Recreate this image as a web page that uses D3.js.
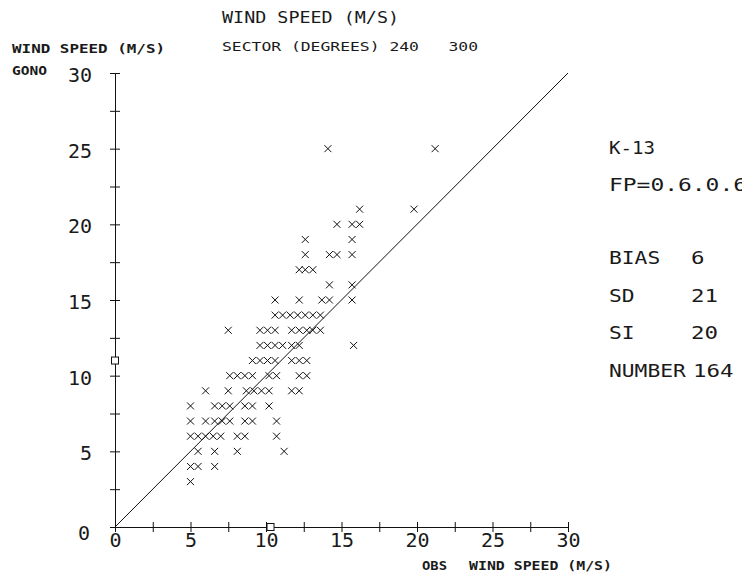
<!DOCTYPE html>
<html><head><meta charset="utf-8">
<script src="https://cdn.jsdelivr.net/npm/d3@7"></script>
<style>body{margin:0;background:#fff}text{font-family:"DejaVu Sans Mono",monospace;fill:#1a1a1a;white-space:pre}</style>
</head><body><svg id="c" width="742" height="580"></svg>
<script>
// GONO wind speed levels (m/s) and the observed speeds plotted at each level
const gonoLevels = [3, 4, 5, 6, 7, 8, 9, 10, 11, 12, 13, 14, 15, 16, 17, 18, 19, 20, 21, 25];
const obsAtLevel = [
  [5.0],
  [5.0, 5.5, 6.6],
  [5.5, 6.6, 8.1, 11.2],
  [5.0, 5.5, 6.0, 6.5, 7.0, 8.1, 8.6, 10.7],
  [5.0, 6.0, 6.6, 7.1, 7.6, 8.6, 9.1, 10.7],
  [5.0, 6.6, 7.1, 7.6, 8.6, 9.1, 10.2],
  [6.0, 7.5, 8.7, 9.2, 9.7, 10.2, 11.7, 12.2],
  [7.6, 8.1, 8.6, 9.1, 10.2, 10.7, 12.2, 12.7],
  [9.1, 9.6, 10.1, 10.6, 11.7, 12.2, 12.7],
  [9.6, 10.1, 10.6, 11.1, 11.7, 12.2, 15.8],
  [7.5, 9.6, 10.1, 10.6, 11.7, 12.2, 12.7, 13.1, 13.6],
  [10.6, 11.1, 11.6, 12.1, 12.6, 13.1, 13.6],
  [10.6, 12.2, 13.7, 14.2, 15.7],
  [14.2, 15.7],
  [12.2, 12.6, 13.1],
  [12.6, 14.2, 14.7, 15.7],
  [12.6, 15.7],
  [14.7, 15.7, 16.2],
  [16.2, 19.8],
  [14.1, 21.2]
];
// mean markers (squares on the axes)
const meanObs = 10.3;
const meanGono = 11.0;
const axisTicks = [0, 2.5, 5, 7.5, 10, 12.5, 15, 17.5, 20, 22.5, 25, 27.5, 30];
const tickLabels = [0, 5, 10, 15, 20, 25, 30];
const statNames = ["BIAS", "SD", "SI", "NUMBER"];
const statValues = ["6", "21", "20", "164"];

const svg = d3.select("#c");
const x = d3.scaleLinear().domain([0, 30]).range([115, 568]);
const y = d3.scaleLinear().domain([0, 30]).range([527, 73]);

const fmt = d => tickLabels.includes(d) ? String(d) : "";

// y axis
const gy = svg.append("g").attr("transform", `translate(${x(0)},0)`)
  .call(d3.axisLeft(y).tickValues(axisTicks).tickFormat(fmt).tickSize(5).tickSizeOuter(0).tickPadding(18));
gy.select(".domain").attr("stroke", "#111");
gy.selectAll(".tick line").attr("x1", -5).attr("x2", 5).attr("stroke", "#111");
gy.selectAll(".tick text").attr("font-size", 20).attr("font-family", "DejaVu Sans Mono").attr("fill", "#1a1a1a")
  .attr("dy", d => d === 0 ? "0.62em" : "0.42em").attr("dx", d => d === 0 ? -2 : 0);

// x axis
const gx = svg.append("g").attr("transform", `translate(0,${y(0)})`)
  .call(d3.axisBottom(x).tickValues(axisTicks).tickFormat(fmt).tickSize(5).tickSizeOuter(0).tickPadding(1));
gx.select(".domain").attr("stroke", "#111");
gx.selectAll(".tick line").attr("y1", -5).attr("y2", 5).attr("stroke", "#111");
gx.selectAll(".tick text").attr("font-size", 20).attr("font-family", "DejaVu Sans Mono").attr("fill", "#1a1a1a");

// diagonal
svg.append("line").attr("x1", x(0)).attr("y1", y(0)).attr("x2", x(30)).attr("y2", y(30))
  .attr("stroke", "#111").attr("stroke-width", 1);

// points
const pts = [];
gonoLevels.forEach((g, i) => obsAtLevel[i].forEach(o => pts.push([o, g])));
const s = 3.5;
svg.append("g").selectAll("path").data(pts).join("path")
  .attr("transform", d => `translate(${x(d[0])},${y(d[1])})`)
  .attr("d", `M${-s},${-s}L${s},${s}M${-s},${s}L${s},${-s}`)
  .attr("stroke", "#111").attr("stroke-width", 1).attr("fill", "none");

// mean squares
const q = 3.5;
svg.append("rect").attr("x", x(meanObs) - q).attr("y", y(0) - q).attr("width", 2*q).attr("height", 2*q)
  .attr("fill", "#fff").attr("stroke", "#111");
svg.append("rect").attr("x", x(0) - q).attr("y", y(meanGono) - q).attr("width", 2*q).attr("height", 2*q)
  .attr("fill", "#fff").attr("stroke", "#111");

// texts
function txt(str, tx, ty, size, len, bold) {
  const t = svg.append("text").attr("x", tx).attr("y", ty).attr("font-size", size)
    .attr("xml:space", "preserve").text(str);
  if (len) t.attr("textLength", len).attr("lengthAdjust", "spacingAndGlyphs");
  if (bold) t.attr("font-weight", "bold");
  return t;
}
txt("WIND SPEED (M/S)", 222, 23, 16, 177);
txt("SECTOR (DEGREES) 240   300", 222, 51, 12.5, 256);
txt("WIND SPEED (M/S)", 12, 53, 12, 153, true);
txt("GONO", 12, 75, 12, 35, true);
txt("OBS", 422, 570, 12, 25, true);
txt("WIND SPEED (M/S)", 469, 570, 12, 143, true);

const sx = 609;
txt("K-13", sx, 154, 18, 46);
txt("FP=0.6.0.6", sx, 191, 18, 138);
statNames.forEach((n, i) => {
  const yy = 264 + i * 37.5;
  txt(n, sx, yy, 18, n.length * 12.8);
});
statValues.forEach((v, i) => {
  const yy = 264 + i * 37.5;
  const xx = i === 3 ? sx + 84 : sx + 82;
  txt(v, xx, yy, 18, v.length * 13.5);
});
</script></body></html>
